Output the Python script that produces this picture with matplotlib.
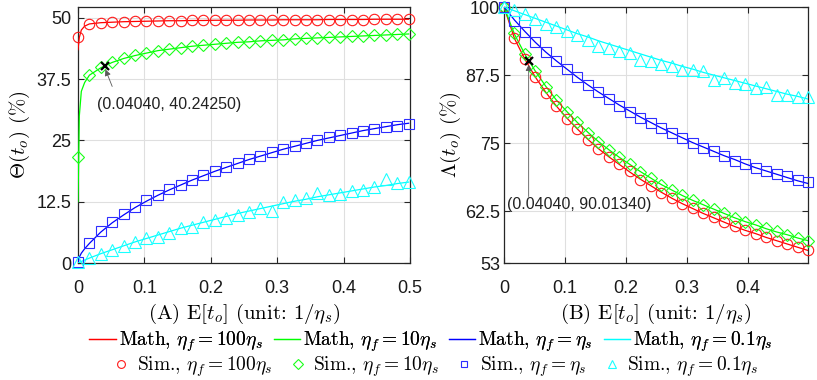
"""Theta / Lambda vs E[t_o] for four eta_f settings (math vs sim)."""
import matplotlib
matplotlib.use("Agg")
import matplotlib.pyplot as plt
from matplotlib.lines import Line2D

plt.rcParams["mathtext.fontset"] = "cm"
plt.rcParams["font.family"] = ["Liberation Sans", "DejaVu Sans"]

# ---- data ---------------------------------------------------------------------

x_sim = [0, 0.0172, 0.0343, 0.0515, 0.0687, 0.0859, 0.1030, 0.1202, 0.1374, 0.1546,
         0.1717, 0.1889, 0.2061, 0.2232, 0.2404, 0.2576, 0.2748, 0.2919, 0.3091, 0.3263,
         0.3434, 0.3606, 0.3778, 0.3950, 0.4121, 0.4293, 0.4465, 0.4636, 0.4808, 0.4980]
x_math_l = [0, 0.002, 0.005, 0.010] + x_sim[1:]

theta_sim_100 = [46.1, 48.7, 49.0, 49.1, 49.2, 49.25, 49.3, 49.35, 49.4, 49.4,
                 49.45, 49.45, 49.5, 49.5, 49.5, 49.55, 49.55, 49.55, 49.6, 49.6,
                 49.6, 49.6, 49.65, 49.65, 49.65, 49.65, 49.7, 49.7, 49.7, 49.7]
theta_sim_10 = [21.6, 38.4, 39.9, 41.0, 41.8, 42.4, 42.9, 43.3, 43.6, 43.9,
                44.2, 44.4, 44.6, 44.8, 45.0, 45.1, 45.3, 45.4, 45.5, 45.7,
                45.8, 45.9, 46.0, 46.1, 46.2, 46.3, 46.4, 46.5, 46.6, 46.7]
theta_sim_1 = [0.3, 4.1, 6.5, 8.4, 10.0, 11.5, 12.8, 13.9, 15.0, 15.9,
               16.9, 17.9, 18.8, 19.6, 20.4, 21.2, 21.9, 22.6, 23.3, 23.9,
               24.5, 25.0, 25.6, 26.0, 26.5, 27.0, 27.3, 27.7, 28.0, 28.3]
theta_sim_01 = [0.2, 1.1, 1.9, 2.6, 3.4, 4.3, 5.0, 5.3, 6.2, 7.1,
                7.3, 8.4, 8.8, 9.2, 9.8, 10.4, 11.3, 10.7, 12.4, 12.8,
                13.3, 14.2, 13.9, 14.0, 14.6, 14.8, 15.4, 17.1, 16.3, 16.6]

theta_math_100 = [43.5, 46.0, 47.5, 48.3, 48.75, 49.0, 49.1, 49.2, 49.25, 49.3, 49.35, 49.4,
                  49.4, 49.45, 49.45, 49.5, 49.5, 49.5, 49.55, 49.55, 49.55, 49.6, 49.6,
                  49.6, 49.6, 49.65, 49.65, 49.65, 49.65, 49.7, 49.7, 49.7, 49.7]
theta_math_10 = [12.5, 30.0, 35.0, 36.8, 38.3, 39.8, 40.9, 41.7, 42.3, 42.8, 43.3, 43.6,
                 43.9, 44.2, 44.4, 44.6, 44.8, 45.0, 45.1, 45.3, 45.4, 45.5, 45.7,
                 45.8, 45.9, 46.0, 46.1, 46.2, 46.3, 46.4, 46.5, 46.6, 46.7]
theta_math_1 = [0, 1.2, 2.0, 2.9, 4.0, 6.3, 8.2, 9.8, 11.3, 12.6, 13.8, 14.9,
                15.9, 16.9, 17.8, 18.7, 19.5, 20.3, 21.1, 21.8, 22.5, 23.2, 23.8,
                24.4, 25.0, 25.5, 26.0, 26.5, 27.0, 27.4, 27.8, 28.2, 28.5]
theta_math_01 = [0, 0.1, 0.3, 0.6, 1.0, 1.9, 2.7, 3.5, 4.3, 5.0, 5.7, 6.4,
                 7.1, 7.7, 8.3, 8.9, 9.5, 10.1, 10.6, 11.1, 11.6, 12.1, 12.6,
                 13.0, 13.5, 13.9, 14.3, 14.7, 15.1, 15.5, 15.8, 16.2, 16.5]

lam_sim_100 = [100, 94.4, 90.5, 87.2, 84.2, 81.8, 79.5, 77.6, 75.6, 73.9,
               72.4, 71.2, 69.8, 68.3, 67.2, 65.9, 64.9, 63.9, 63.1, 62.2,
               61.4, 60.6, 59.8, 59.0, 58.4, 57.8, 57.1, 56.5, 55.9, 55.3]
lam_sim_10 = [100, 95.2, 91.4, 88.3, 85.3, 82.9, 80.7, 78.8, 76.9, 75.2,
              73.7, 72.5, 71.1, 69.7, 68.6, 67.4, 66.4, 65.4, 64.6, 63.7,
              62.9, 62.1, 61.3, 60.6, 60.0, 59.4, 58.8, 58.2, 57.6, 57.1]
lam_sim_1 = [100, 97.5, 95.5, 93.5, 91.7, 90.1, 88.6, 87.1, 85.6, 84.4,
             83.2, 81.9, 80.8, 79.7, 78.7, 77.8, 76.8, 76.0, 75.0, 74.2,
             73.5, 72.6, 71.8, 71.2, 70.4, 69.8, 69.3, 68.9, 68.3, 67.8]
lam_sim_01 = [100, 99.5, 98.8, 97.8, 96.9, 96.4, 95.6, 94.9, 94.0, 92.9,
              92.5, 92.0, 91.5, 90.3, 90.1, 89.5, 89.2, 88.5, 88.5, 88.2,
              86.6, 87.0, 86.0, 85.8, 85.1, 85.4, 83.9, 83.8, 83.4, 83.5]

lam_math_100 = [100, 94.2, 90.4, 87.1, 84.3, 81.8, 79.6, 77.6, 75.7, 74.0,
                72.5, 71.1, 69.7, 68.4, 67.2, 66.0, 64.9, 63.9, 63.0, 62.1,
                61.3, 60.5, 59.7, 59.0, 58.4, 57.7, 57.1, 56.5, 55.9, 55.3]
lam_math_10 = [100, 95.0, 91.3, 88.2, 85.4, 82.9, 80.8, 78.8, 77.0, 75.3,
               73.8, 72.4, 71.1, 69.8, 68.6, 67.4, 66.4, 65.4, 64.5, 63.7,
               62.9, 62.1, 61.3, 60.6, 60.0, 59.3, 58.7, 58.2, 57.6, 57.1]
lam_math_1 = [100, 97.6, 95.5, 93.5, 91.7, 90.1, 88.6, 87.1, 85.7, 84.4,
              83.2, 82.0, 80.9, 79.8, 78.8, 77.8, 76.9, 76.0, 75.1, 74.3,
              73.5, 72.7, 72.0, 71.2, 70.5, 69.9, 69.3, 68.7, 68.1, 67.6]
lam_math_01 = [100, 99.3, 98.6, 97.9, 97.2, 96.5, 95.8, 95.1, 94.5, 93.8,
               93.2, 92.6, 92.0, 91.4, 90.8, 90.2, 89.7, 89.1, 88.6, 88.0,
               87.5, 87.0, 86.5, 86.0, 85.5, 85.0, 84.5, 84.0, 83.6, 83.1]

theta_ticks = [0, 12.5, 25, 37.5, 50]
lam_ticks = [53, 62.5, 75, 87.5, 100]
mark_x = 0.0404
mark_theta = 40.2425
mark_lam = 90.0134

labels = [r"$\eta_f = 100\eta_s$", r"$\eta_f = 10\eta_s$",
          r"$\eta_f = \eta_s$", r"$\eta_f = 0.1\eta_s$"]
colors = ["#ff0000", "#00ff00", "#0000ff", "#00ffff"]
sim_colors = ["#ff1a1a", "#1aff1a", "#2e2eff", "#1affff"]
markers = ["o", "D", "s", "^"]
msizes = [7.5, 6.5, 6.5, 8.5]

# ---- figure -------------------------------------------------------------------

W, H = 817, 380
fig = plt.figure(figsize=(W / 100, H / 100), dpi=100)
axA = fig.add_axes([78 / W, 1 - 263 / H, 332 / W, 256 / H])
axB = fig.add_axes([504 / W, 1 - 263 / H, 304 / W, 256 / H])

label_font = dict(family="cmr10", size=15)
AX_COL = "#262626"


def style_axes(ax, ypad):
    ax.grid(True, color="#dfdfdf", linewidth=0.8)
    ax.set_axisbelow(True)
    for sp in ax.spines.values():
        sp.set_color(AX_COL)
        sp.set_linewidth(0.9)
    ax.tick_params(direction="in", top=True, right=True, length=4,
                   width=0.8, color=AX_COL, labelcolor="#1a1a1a", labelsize=13)
    ax.tick_params(axis="x", pad=12)
    ax.tick_params(axis="y", pad=ypad)


theta_math = [theta_math_100, theta_math_10, theta_math_1, theta_math_01]
theta_sim = [theta_sim_100, theta_sim_10, theta_sim_1, theta_sim_01]
lam_math = [lam_math_100, lam_math_10, lam_math_1, lam_math_01]
lam_sim = [lam_sim_100, lam_sim_10, lam_sim_1, lam_sim_01]

for i in range(4):
    axA.plot(x_math_l, theta_math[i], color=colors[i], lw=0.9, zorder=3)
    axA.plot(x_sim, theta_sim[i], ls="none", marker=markers[i], ms=msizes[i],
             mfc="none", mec=sim_colors[i], mew=0.8, zorder=4, clip_on=False)
    axB.plot(x_sim, lam_math[i], color=colors[i], lw=0.9, zorder=3)
    axB.plot(x_sim, lam_sim[i], ls="none", marker=markers[i], ms=msizes[i],
             mfc="none", mec=sim_colors[i], mew=0.8, zorder=4, clip_on=False)

# panel A
style_axes(axA, 5)
axA.set_xlim(0, 0.5)
axA.set_ylim(0, 52.2)
axA.set_yticks(theta_ticks)
axA.set_yticklabels(["0", "12.5", "25", "37.5", "50"])
axA.set_xticks([0, 0.1, 0.2, 0.3, 0.4, 0.5])
axA.set_xticklabels(["0", "0.1", "0.2", "0.3", "0.4", "0.5"])
axA.set_ylabel(r"$\Theta(t_o)$ (%)", fontdict=label_font, labelpad=3)
axA.set_xlabel(r"(A) E$[t_o]$ (unit: 1/$\eta_s$)", fontdict=label_font, labelpad=4)
axA.plot([mark_x], [mark_theta], marker="x", color="black", ms=6, mew=1.6, zorder=6)
axA.annotate("", xy=(mark_x + 0.001, mark_theta - 0.8), xytext=(0.0515, 36.0),
             arrowprops=dict(arrowstyle="-|>", color="0.35", lw=0.6,
                             mutation_scale=9, shrinkA=0, shrinkB=0), zorder=6)
axA.text(0.029, 32.3, "(0.04040, 40.24250)", fontsize=11.5, color="#222222",
         ha="left", va="center")

# panel B
style_axes(axB, 3)
axB.set_xlim(0, 0.498)
axB.set_ylim(53, 100)
axB.set_yticks(lam_ticks)
axB.set_yticklabels(["53", "62.5", "75", "87.5", "100"])
axB.set_xticks([0, 0.1, 0.2, 0.3, 0.4])
axB.set_xticklabels(["0", "0.1", "0.2", "0.3", "0.4"])
axB.set_ylabel(r"$\Lambda(t_o)$ (%)", fontdict=label_font, labelpad=1)
axB.set_xlabel(r"(B) E$[t_o]$ (unit: 1/$\eta_s$)", fontdict=label_font, labelpad=4)
axB.plot([mark_x], [mark_lam], marker="x", color="black", ms=6, mew=1.6, zorder=6)
axB.annotate("", xy=(mark_x, mark_lam - 0.6), xytext=(mark_x, 65.2),
             arrowprops=dict(arrowstyle="-|>", color="0.35", lw=0.6,
                             mutation_scale=9, shrinkA=0, shrinkB=0), zorder=6)
axB.text(0.005, 63.7, "(0.04040, 90.01340)", fontsize=11.5, color="#222222",
         ha="left", va="center")

# legends: row of lines, row of markers
math_handles = [Line2D([], [], color=c, lw=0.9) for c in colors]
sim_handles = [Line2D([], [], ls="none", marker=m, ms=s * 0.75, mfc="none", mec=c, mew=0.8)
               for c, m, s in zip(sim_colors, markers, msizes)]
leg_font = dict(family="cmr10", size=14)
leg1 = fig.legend(math_handles, ["Math, " + l for l in labels], loc="center",
                  bbox_to_anchor=(431 / W, 1 - 342 / H), ncol=4, frameon=False,
                  prop=leg_font, handlelength=1.35, handletextpad=0.15,
                  columnspacing=0.6, borderpad=0, borderaxespad=0)
fig.add_artist(leg1)
fig.legend(sim_handles, ["Sim., " + l for l in labels], loc="center",
           bbox_to_anchor=(436 / W, 1 - 367 / H), ncol=4, frameon=False,
           prop=leg_font, handlelength=0.8, handletextpad=0.4,
           columnspacing=0.9, borderpad=0, borderaxespad=0)

fig.savefig("out.png", dpi=100)
